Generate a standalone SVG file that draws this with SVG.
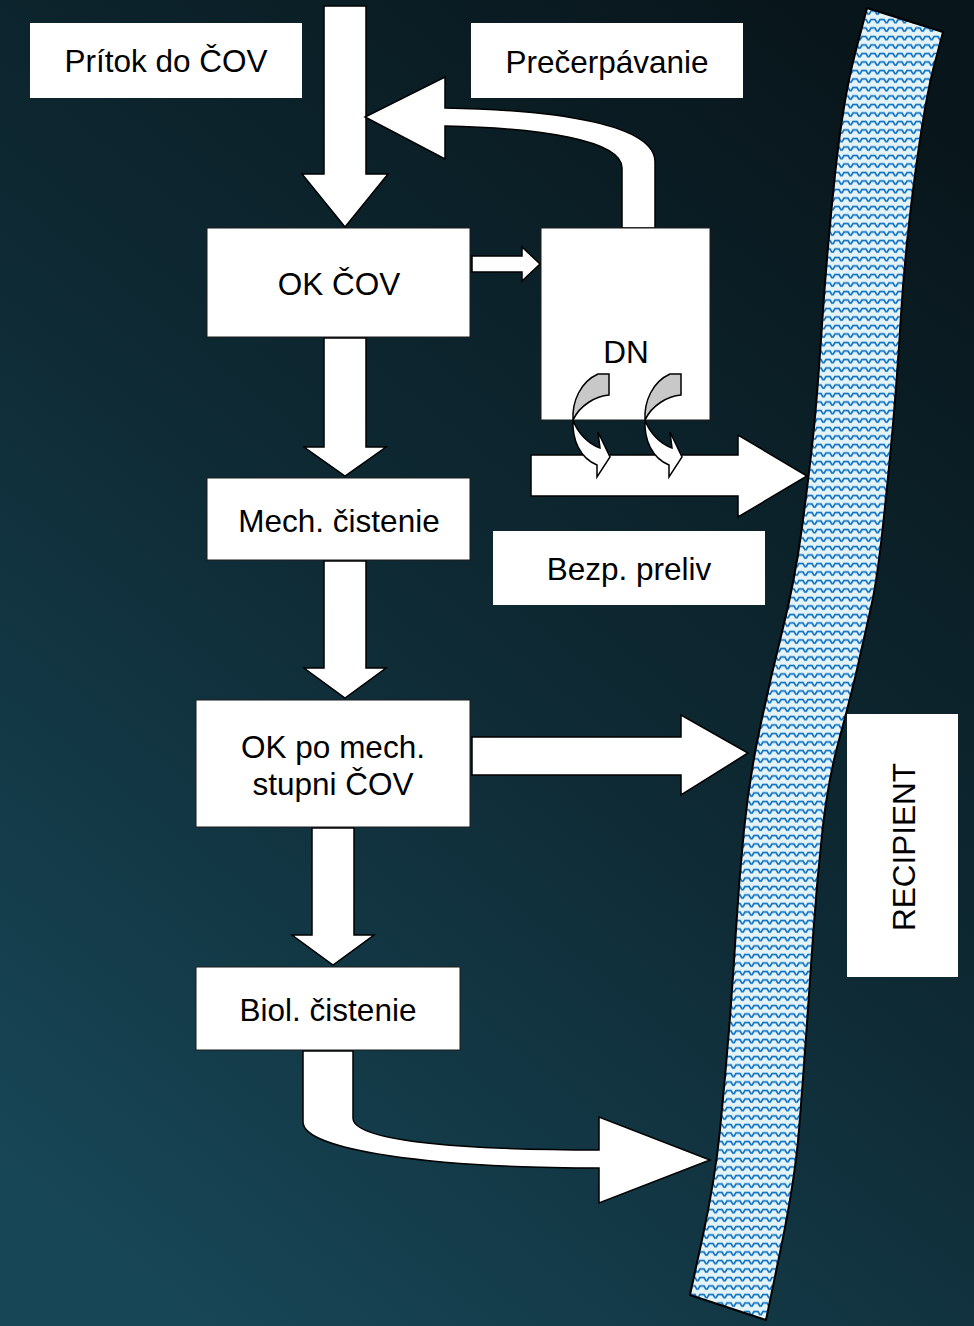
<svg xmlns="http://www.w3.org/2000/svg" width="974" height="1326" viewBox="0 0 974 1326">
<defs>
<linearGradient id="bg" x1="0.8" y1="0" x2="0.2" y2="1">
<stop offset="0" stop-color="#08161b"/>
<stop offset="0.5" stop-color="#0e2a34"/>
<stop offset="1" stop-color="#174656"/>
</linearGradient>
<pattern id="waves" width="9" height="8.5" patternUnits="userSpaceOnUse">
<rect width="9" height="8.5" fill="#e4f3f5"/>
<path d="M0,2.5 L2,2.5 L3.8,5.6 L5.2,5.6 L7,2.5 L9,2.5" stroke="#0a6fc4" stroke-width="1.7" fill="none"/>
</pattern>
<style>
.box{fill:#ffffff;stroke:#1a1a1a;stroke-width:1}
.lbl{font-family:"Liberation Sans",Arial,sans-serif;font-size:31.5px;fill:#000000;text-anchor:middle}
.arr{fill:#ffffff;stroke:#000000;stroke-width:1.5;stroke-linejoin:miter}
.back{fill:#c8c8c8;stroke:#000000;stroke-width:1.5}
</style>
</defs>
<rect width="974" height="1326" fill="url(#bg)"/>

<g id="river">
<path d="M867,8 L855,54 Q843,100 835,175 Q827,250 822,325 Q817,400 813,437.5 Q809,475 802,527.5 Q795,580 782.5,630 Q770,680 759.5,730 Q749,780 744,830 Q739,880 736,930 Q733,980 729,1030 Q725,1080 720,1130 Q715,1180 702.5,1237.5 L690,1295 L766,1320 L780.5,1250 Q795,1180 799,1130 Q803,1080 806.5,1030 Q810,980 813.5,930 Q817,880 822.5,830 Q828,780 839,740 Q850,700 858,665 Q866,630 871.5,605 Q877,580 882.5,530 Q888,480 892.5,430 Q897,380 901,315 Q905,250 915,175 Q925,100 934,66 L943,32 Z" fill="url(#waves)" stroke="#000000" stroke-width="2" stroke-linejoin="round"/>
</g>

<g id="connectors">
<path class="arr" d="M324,6 L366,6 L366,174 L388,174 L345,227 L302,174 L324,174 Z"/>
<path class="arr" d="M655,228 L655,162 C655,125 560,110 445,108 L445,77 L365,117 L445,159 L445,126 C540,128 622,140 622,168 L622,228 Z"/>
<path class="arr" d="M472,256 L522,256 L522,247 L540,264 L522,281 L522,272 L472,272 Z"/>
<path class="arr" d="M324,338 L366,338 L366,447 L386,447 L345,476 L304,447 L324,447 Z"/>
<path class="arr" d="M531,455 L738,455 L738,435 L807,476 L738,517 L738,496 L531,496 Z"/>
<path class="arr" d="M324,561 L366,561 L366,668 L386,668 L345,698 L304,668 L324,668 Z"/>
<path class="arr" d="M472,737 L681,737 L681,715 L748,753 L681,795 L681,775 L472,775 Z"/>
<path class="arr" d="M312,828 L354,828 L354,935 L374,935 L333,965 L292,935 L312,935 Z"/>
<path class="arr" d="M303,1051 L353,1051 L353,1118 C353,1140 450,1150 599,1150 L599,1117 L710,1160 L599,1203 L599,1168 C430,1168 303,1150 303,1122 Z"/>
</g>

<g id="pritok"><rect x="30" y="23" width="272" height="75" fill="#ffffff"/><text class="lbl" x="166" y="72">Prítok do ČOV</text></g>
<g id="precerpavanie"><rect x="471" y="23" width="272" height="75" fill="#ffffff"/><text class="lbl" x="607" y="73">Prečerpávanie</text></g>
<g id="ok-cov"><rect class="box" x="207" y="228" width="263" height="109"/><text class="lbl" x="339" y="295">OK ČOV</text></g>
<g id="dn"><rect class="box" x="541" y="228" width="169" height="192"/><text class="lbl" x="626" y="363">DN</text></g>
<g id="mech"><rect class="box" x="207" y="478" width="263" height="82"/><text class="lbl" x="339" y="532">Mech. čistenie</text></g>
<g id="bezp"><rect x="493" y="531" width="272" height="74" fill="#ffffff"/><text class="lbl" x="629" y="580">Bezp. preliv</text></g>
<g id="ok-mech"><rect class="box" x="196" y="700" width="274" height="127"/><text class="lbl" x="333" y="758">OK po mech.</text><text class="lbl" x="333" y="795">stupni ČOV</text></g>
<g id="biol"><rect class="box" x="196" y="967" width="264" height="83"/><text class="lbl" x="328" y="1021">Biol. čistenie</text></g>
<g id="recipient"><rect x="847" y="714" width="111" height="263" fill="#ffffff"/><text class="lbl" transform="translate(915,847) rotate(-90)">RECIPIENT</text></g>

<g id="dn-overflow-arrows">
<path class="back" d="M598,374 L609,374 L609,395 C596,396 580,405 573,420 C572,402 580,382 598,374 Z"/>
<path class="arr" d="M573,420 C572,440 580,458 597,465 L597,477 L610,457 L598,432 L600,448 C588,444 577,432 573,420 Z"/>
<path class="back" d="M670,374 L681,374 L681,395 C668,396 652,405 645,420 C644,402 652,382 670,374 Z"/>
<path class="arr" d="M645,420 C644,440 652,458 669,465 L669,477 L682,457 L670,432 L672,448 C660,444 649,432 645,420 Z"/>
</g>
</svg>
